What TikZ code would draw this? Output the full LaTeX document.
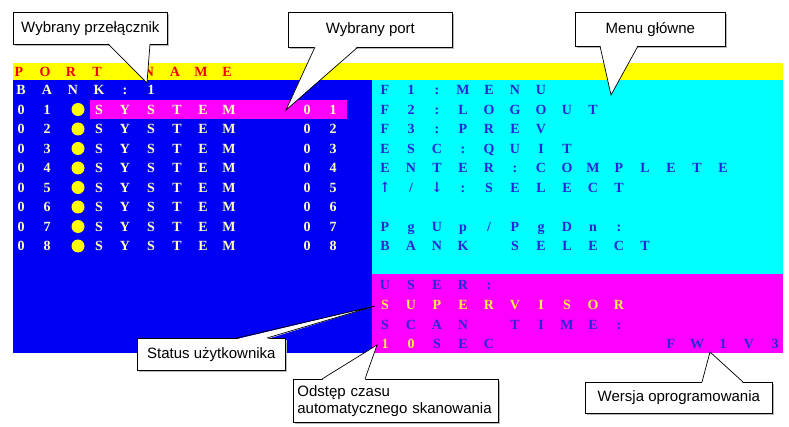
\documentclass[tikz,border=0pt]{standalone}
\usepackage{fontspec}
\setmainfont{Liberation Sans}
\newfontfamily\scrfont{Liberation Serif}
\newfontfamily\arrfont{DejaVu Serif}
\definecolor{scrblue}{RGB}{0,0,245}
\definecolor{scrcyan}{RGB}{0,255,255}
\definecolor{scrmag}{RGB}{255,0,255}
\definecolor{scryel}{RGB}{255,255,0}
\definecolor{txtpale}{RGB}{255,255,185}
\definecolor{txtblue}{RGB}{40,40,215}
\definecolor{txtred}{RGB}{240,0,0}
\definecolor{txtyel}{RGB}{255,235,70}
\definecolor{shadowgray}{RGB}{185,185,185}
\tikzset{
  ch/.style={font=\scrfont\bfseries\fontsize{14}{14}\selectfont, inner sep=0pt, anchor=base},
  dot/.style={circle, fill=scryel, minimum size=13pt, inner sep=0pt},
  cbox/.style={draw=black, line width=0.7pt, fill=white, inner sep=3pt,
    font=\fontsize{15}{17}\selectfont},
  cline/.style={draw=black, line width=0.7pt, line join=miter},
}
\newcommand\gridrow[5]{%
  \foreach \ch [count=\i from 0] in {#5} {%
    \node[ch, text=#4] (#1-\i) at ({#2+26*\i},{#3+5}) {\ch};}}
\begin{document}
\begin{tikzpicture}[x=1pt, y=-1pt]
\useasboundingbox (0,0) rectangle (789,427);
\fill[white] (0,0) rectangle (789,427);
% screen
\fill[scryel] (13,63) rectangle (783,80);
\fill[scrblue] (13,80) rectangle (372,353);
\fill[scrcyan] (372,80) rectangle (783,274);
\fill[scrmag] (372,274) rectangle (783,353);
\fill[scrmag] (90,100) rectangle (347,119);
% header
\gridrow{hd}{19}{72}{txtred}{P,O,R,T,{},N,A,M,E}
\gridrow{bk}{21}{90}{txtpale}{B,A,N,K,:,1}
\foreach \k in {1,...,8} {
  \pgfmathsetmacro\yy{90+19.5*\k}
  \gridrow{p\k}{21}{\yy}{txtpale}{0,\k,{},S,Y,S,T,E,M,{},{},0,\k}
  \node[dot] (d\k) at (78,\yy) {};
}
% menu
\gridrow{m0}{385}{90}{txtblue}{F,1,:,M,E,N,U}
\gridrow{m1}{385}{109.5}{txtblue}{F,2,:,L,O,G,O,U,T}
\gridrow{m2}{385}{129}{txtblue}{F,3,:,P,R,E,V}
\gridrow{m3}{385}{148.5}{txtblue}{E,S,C,:,Q,U,I,T}
\gridrow{m4}{385}{168}{txtblue}{E,N,T,E,R,:,C,O,M,P,L,E,T,E}
\gridrow{m5}{385}{187.5}{txtblue}{{\arrfont ↑},/,{\arrfont ↓},:,S,E,L,E,C,T}
\gridrow{m7}{385}{226.5}{txtblue}{P,g,U,p,/,P,g,D,n,:}
\gridrow{m8}{385}{246}{txtblue}{B,A,N,K,{},S,E,L,E,C,T}
\gridrow{u0}{385}{285}{txtblue}{U,S,E,R,:}
\gridrow{u1}{385}{304.5}{txtyel}{S,U,P,E,R,V,I,S,O,R}
\gridrow{u2}{385}{324}{txtblue}{S,C,A,N,{},T,I,M,E,:}
\gridrow{u3}{385}{343.5}{txtyel}{1,0}
\gridrow{u4}{437}{343.5}{txtblue}{S,E,C}
\gridrow{fw}{671}{343.5}{txtblue}{F,W,1,V,3}
% callout 1
\fill[shadowgray] (15,14) rectangle (169,46);
\node[cbox, minimum width=154pt, minimum height=32pt, anchor=north west] (c1) at (13,12) {Wybrany przełącznik};
\coordinate (t1) at (147,83);
\fill[white] (108,43) -- (t1) -- (150,43) -- cycle;
\draw[cline] (108,44) -- (t1) -- (150,44);
% callout 2
\fill[shadowgray] (290,14) rectangle (454,49);
\node[cbox, minimum width=164pt, minimum height=35pt, anchor=north west] (c2) at (288,12) {Wybrany port};
\coordinate (t2) at (286,110);
\fill[white] (315,46) -- (t2) -- (358,46) -- cycle;
\draw[cline] (315,47) -- (t2) -- (358,47);
% callout 3
\fill[shadowgray] (577,14) rectangle (727,48);
\node[cbox, minimum width=150pt, minimum height=34pt, anchor=north west] (c3) at (575,12) {Menu główne};
\coordinate (t3) at (611,95);
\fill[white] (600,45) -- (t3) -- (638,45) -- cycle;
\draw[cline] (600,46) -- (t3) -- (638,46);
% callout 4
\fill[shadowgray] (139,340) rectangle (287,372);
\node[cbox, minimum width=148pt, minimum height=32pt, anchor=north west] (c4) at (137,338) {Status użytkownika};
\coordinate (t4) at (375,306);
\fill[white] (237,339) -- (t4) -- (267,339) -- cycle;
\draw[cline] (237,338) -- (t4) -- (267,338);
% callout 5
\fill[shadowgray] (295,381) rectangle (500,424);
\node[cbox, minimum width=205pt, minimum height=43pt, anchor=north west, align=left, text width=197pt, font=\fontsize{15}{17}\selectfont] (c5) at (293,379) {Odstęp czasu\\automatycznego skanowania};
\coordinate (t5) at (377,345);
\fill[white] (322,380) -- (t5) -- (365,380) -- cycle;
\draw[cline] (322,379) -- (t5) -- (365,379);
% callout 6
\fill[shadowgray] (587,384) rectangle (774,415);
\node[cbox, minimum width=187pt, minimum height=31pt, anchor=north west] (c6) at (585,382) {Wersja oprogramowania};
\coordinate (t6) at (710,352);
\fill[white] (702,383) -- (t6) -- (743,383) -- cycle;
\draw[cline] (702,382) -- (t6) -- (743,382);
\end{tikzpicture}
\end{document}
